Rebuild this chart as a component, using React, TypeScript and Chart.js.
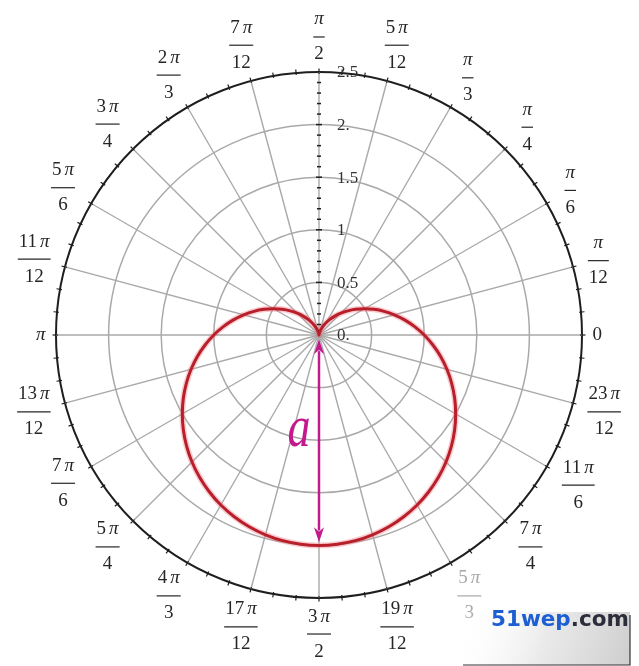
import React, { useEffect, useRef } from "react";
import { Chart, registerables } from "chart.js";

Chart.register(...registerables);

// Sample angles (degrees, math convention) for the curve, in the radial scale's order
const sampleAngles = [
  90, 85, 80, 75, 70, 65, 60, 55, 50, 45, 40, 35, 30, 25, 20, 15, 10, 5,
  0, 355, 350, 345, 340, 335, 330, 325, 320, 315, 310, 305, 300, 295, 290, 285, 280, 275,
  270, 265, 260, 255, 250, 245, 240, 235, 230, 225, 220, 215, 210, 205, 200, 195, 190, 185,
  180, 175, 170, 165, 160, 155, 150, 145, 140, 135, 130, 125, 120, 115, 110, 105, 100, 95,
];

// Radius of the cardioid read at each sample angle
const cardioidR = [
  0, 0.004, 0.015, 0.034, 0.06, 0.094, 0.134, 0.181, 0.234, 0.293, 0.357, 0.426, 0.5, 0.577, 0.658, 0.741, 0.826, 0.913,
  1, 1.087, 1.174, 1.259, 1.342, 1.423, 1.5, 1.574, 1.643, 1.707, 1.766, 1.819, 1.866, 1.906, 1.94, 1.966, 1.985, 1.996,
  2, 1.996, 1.985, 1.966, 1.94, 1.906, 1.866, 1.819, 1.766, 1.707, 1.643, 1.574, 1.5, 1.423, 1.342, 1.259, 1.174, 1.087,
  1, 0.913, 0.826, 0.741, 0.658, 0.577, 0.5, 0.426, 0.357, 0.293, 0.234, 0.181, 0.134, 0.094, 0.06, 0.034, 0.015, 0.004,
];

// Radial tick values and labels
const radialTicks = [0, 0.5, 1, 1.5, 2, 2.5];
const radialTickLabels = ["0.", "0.5", "1", "1.5", "2.", "2.5"];

// Angular labels (degrees) and their texts
const angleLabelDegrees = [
  0, 15, 30, 45, 60, 75, 90, 105, 120, 135, 150, 165,
  180, 195, 210, 225, 240, 255, 270, 285, 300, 315, 330, 345,
];
const angleLabelTexts = [
  "0", "π/12", "π/6", "π/4", "π/3", "5π/12", "π/2", "7π/12", "2π/3", "3π/4", "5π/6", "11π/12",
  "π", "13π/12", "7π/6", "5π/4", "4π/3", "17π/12", "3π/2", "19π/12", "5π/3", "7π/4", "11π/6", "23π/12",
];

// Arrow annotation: from radius to radius along the angle
const arrowAngle = 270;
const arrowFrom = 0.04;
const arrowTo = 1.97;
const arrowLabel = "a";

const SERIF = "'Liberation Serif', 'DejaVu Serif', serif";
const TEXT = "#262626";
const MAGENTA = "#c4198c";
const GRID = "#a9a9a9";

const decorPlugin = {
  id: "polarDecor",
  afterDatasetsDraw(chart: any) {
    const s = chart.scales.r;
    const ctx: CanvasRenderingContext2D = chart.ctx;
    const xc = s.xCenter;
    const yc = s.yCenter;
    const maxV = radialTicks[radialTicks.length - 1];
    const R = s.getDistanceFromCenterForValue(maxV);
    const rad = (d: number) => (d * Math.PI) / 180;
    const pt = (deg: number, d: number) => ({
      x: xc + d * Math.cos(rad(deg)),
      y: yc - d * Math.sin(rad(deg)),
    });

    ctx.save();

    // outer circle minor ticks every 5 degrees
    ctx.strokeStyle = "#1e1e1e";
    ctx.lineWidth = 1.2;
    for (let a = 0; a < 360; a += 5) {
      const p1 = pt(a, R - 2);
      const p2 = pt(a, R + 3.5);
      ctx.beginPath();
      ctx.moveTo(p1.x, p1.y);
      ctx.lineTo(p2.x, p2.y);
      ctx.stroke();
    }

    // vertical axis ticks every 0.1
    ctx.strokeStyle = "#1e1e1e";
    ctx.lineWidth = 1.5;
    for (let k = 1; k < 25; k++) {
      const v = k / 10;
      const y = yc - s.getDistanceFromCenterForValue(v);
      const hl = k % 5 === 0 ? 3 : 2;
      ctx.beginPath();
      ctx.moveTo(xc - hl, y);
      ctx.lineTo(xc + hl, y);
      ctx.stroke();
    }

    // radial tick labels
    ctx.fillStyle = "#333";
    ctx.font = `17px ${SERIF}`;
    ctx.textAlign = "left";
    ctx.textBaseline = "middle";
    radialTicks.forEach((v, i) => {
      const y = yc - s.getDistanceFromCenterForValue(v);
      ctx.fillText(radialTickLabels[i], xc + 18, y + 1);
    });

    // angular labels
    const regFont = `19px ${SERIF}`;
    const itFont = `italic 19px ${SERIF}`;
    const measurePart = (txt: string) => {
      const coef = txt.replace("π", "");
      const hasPi = txt.indexOf("π") >= 0;
      ctx.font = regFont;
      const cw = coef ? ctx.measureText(coef).width : 0;
      ctx.font = itFont;
      const pw = hasPi ? ctx.measureText("π").width : 0;
      const gap = coef && hasPi ? 3 : 0;
      return { coef, hasPi, cw, pw, gap, w: cw + gap + pw };
    };
    const drawPart = (txt: string, cx: number, cy: number) => {
      const m = measurePart(txt);
      let x = cx - m.w / 2;
      ctx.textAlign = "left";
      ctx.textBaseline = "middle";
      if (m.coef) {
        ctx.font = regFont;
        ctx.fillText(m.coef, x, cy);
        x += m.cw + m.gap;
      }
      if (m.hasPi) {
        ctx.font = itFont;
        ctx.fillText("π", x, cy);
      }
    };

    angleLabelDegrees.forEach((deg, i) => {
      const label = angleLabelTexts[i];
      const parts = label.split("/");
      const c = Math.abs(Math.cos(rad(deg)));
      const sn = Math.abs(Math.sin(rad(deg)));
      const color = deg === 300 ? "#a8a8a8" : TEXT;
      ctx.fillStyle = color;
      ctx.strokeStyle = color;
      if (parts.length === 1) {
        const m = measurePart(parts[0]);
        const hw = m.w / 2;
        const hh = 7;
        const p = pt(deg, (273 / 262.5) * R + hw * c + hh * sn);
        drawPart(parts[0], p.x, p.y);
      } else {
        const mn = measurePart(parts[0]);
        ctx.font = regFont;
        const dw = ctx.measureText(parts[1]).width;
        const hw = Math.max(mn.w, dw) / 2;
        const hh = 25;
        const p = pt(deg, (273 / 262.5) * R + hw * c + hh * sn);
        drawPart(parts[0], p.x, p.y - 17);
        ctx.font = regFont;
        ctx.textAlign = "center";
        ctx.textBaseline = "middle";
        ctx.fillText(parts[1], p.x, p.y + 18);
        ctx.lineWidth = 1.2;
        ctx.beginPath();
        ctx.moveTo(p.x - hw - 1, p.y + 0.5);
        ctx.lineTo(p.x + hw + 1, p.y + 0.5);
        ctx.stroke();
      }
    });

    // arrow with two heads
    const a1 = pt(arrowAngle, s.getDistanceFromCenterForValue(arrowFrom));
    const a2 = pt(arrowAngle, s.getDistanceFromCenterForValue(arrowTo));
    ctx.strokeStyle = MAGENTA;
    ctx.fillStyle = MAGENTA;
    ctx.lineWidth = 2.5;
    const headL = 15;
    const headW = 5;
    const len = Math.hypot(a2.x - a1.x, a2.y - a1.y);
    const ux = (a2.x - a1.x) / len;
    const uy = (a2.y - a1.y) / len;
    ctx.beginPath();
    ctx.moveTo(a1.x + ux * headL * 0.8, a1.y + uy * headL * 0.8);
    ctx.lineTo(a2.x - ux * headL * 0.8, a2.y - uy * headL * 0.8);
    ctx.stroke();
    const head = (tip: { x: number; y: number }, dx: number, dy: number) => {
      ctx.beginPath();
      ctx.moveTo(tip.x, tip.y);
      ctx.lineTo(tip.x - dx * headL - dy * headW, tip.y - dy * headL + dx * headW);
      ctx.lineTo(tip.x - dx * headL * 0.7, tip.y - dy * headL * 0.7);
      ctx.lineTo(tip.x - dx * headL + dy * headW, tip.y - dy * headL - dx * headW);
      ctx.closePath();
      ctx.fill();
    };
    head(a2, ux, uy);
    head(a1, -ux, -uy);

    // "a" label
    ctx.save();
    ctx.font = `italic 46px ${SERIF}`;
    ctx.textAlign = "center";
    ctx.textBaseline = "alphabetic";
    ctx.translate(xc - 20, yc + 111);
    ctx.scale(1, 1.3);
    ctx.fillText(arrowLabel, 0, 0);
    ctx.restore();

    // watermark box bottom-right
    const bx = 463, by = 612, bw = 167, bh = 53;
    const g = ctx.createLinearGradient(bx, by, bx + bw, by + bh);
    g.addColorStop(0, "rgba(255,255,255,0)");
    g.addColorStop(0.5, "rgba(228,228,228,0.8)");
    g.addColorStop(1, "rgba(205,205,205,1)");
    ctx.fillStyle = g;
    ctx.fillRect(bx, by, bw, bh);
    ctx.strokeStyle = "#333";
    ctx.lineWidth = 1.2;
    ctx.beginPath();
    ctx.moveTo(bx, by + bh);
    ctx.lineTo(bx + bw, by + bh);
    ctx.lineTo(bx + bw, by + 3);
    ctx.stroke();
    ctx.font = `bold 21.5px 'DejaVu Sans', sans-serif`;
    ctx.textAlign = "left";
    ctx.textBaseline = "alphabetic";
    ctx.fillStyle = "#1d5fd3";
    ctx.fillText("51wep", 491, 626);
    const w1 = ctx.measureText("51wep").width;
    ctx.fillStyle = "#2b2d3a";
    ctx.fillText(".com", 491 + w1, 626);

    ctx.restore();
  },
};

export default function App() {
  const ref = useRef<HTMLCanvasElement | null>(null);

  useEffect(() => {
    document.body.style.margin = "0";
    const canvas = ref.current;
    if (!canvas) return;
    const maxV = radialTicks[radialTicks.length - 1];
    const chart = new Chart(canvas, {
      type: "radar",
      data: {
        labels: sampleAngles.map((a) => String(a)),
        datasets: [
          {
            data: cardioidR,
            borderColor: "#b81f2a",
            borderWidth: 3,
            pointRadius: 0,
            pointHoverRadius: 0,
            fill: false,
            tension: 0.33,
          },
          {
            data: cardioidR,
            borderColor: "rgba(240,110,120,0.35)",
            borderWidth: 6,
            pointRadius: 0,
            pointHoverRadius: 0,
            fill: false,
            tension: 0.33,
          },
        ],
      },
      options: {
        responsive: false,
        animation: false,
        devicePixelRatio: 1,
        layout: { padding: { left: 56, right: 57, top: 72, bottom: 68 } },
        plugins: {
          legend: { display: false },
          tooltip: { enabled: false },
        },
        scales: {
          r: {
            min: 0,
            max: maxV,
            startAngle: 0,
            ticks: { display: false, stepSize: 0.5 },
            grid: {
              circular: true,
              color: (c: any) => (c.tick && c.tick.value >= maxV ? "#1e1e1e" : GRID),
              lineWidth: (c: any) => (c.tick && c.tick.value >= maxV ? 2 : 1.5),
            },
            angleLines: {
              display: true,
              color: GRID,
              lineWidth: (c: any) => (c.index % 3 === 0 ? 1.4 : 0),
            },
            pointLabels: { display: false },
          },
        },
      } as any,
      plugins: [decorPlugin],
    });
    return () => chart.destroy();
  }, []);

  return (
    <div style={{ width: 639, height: 666, background: "#fff" }}>
      <canvas ref={ref} width={639} height={666} style={{ display: "block" }} />
    </div>
  );
}
